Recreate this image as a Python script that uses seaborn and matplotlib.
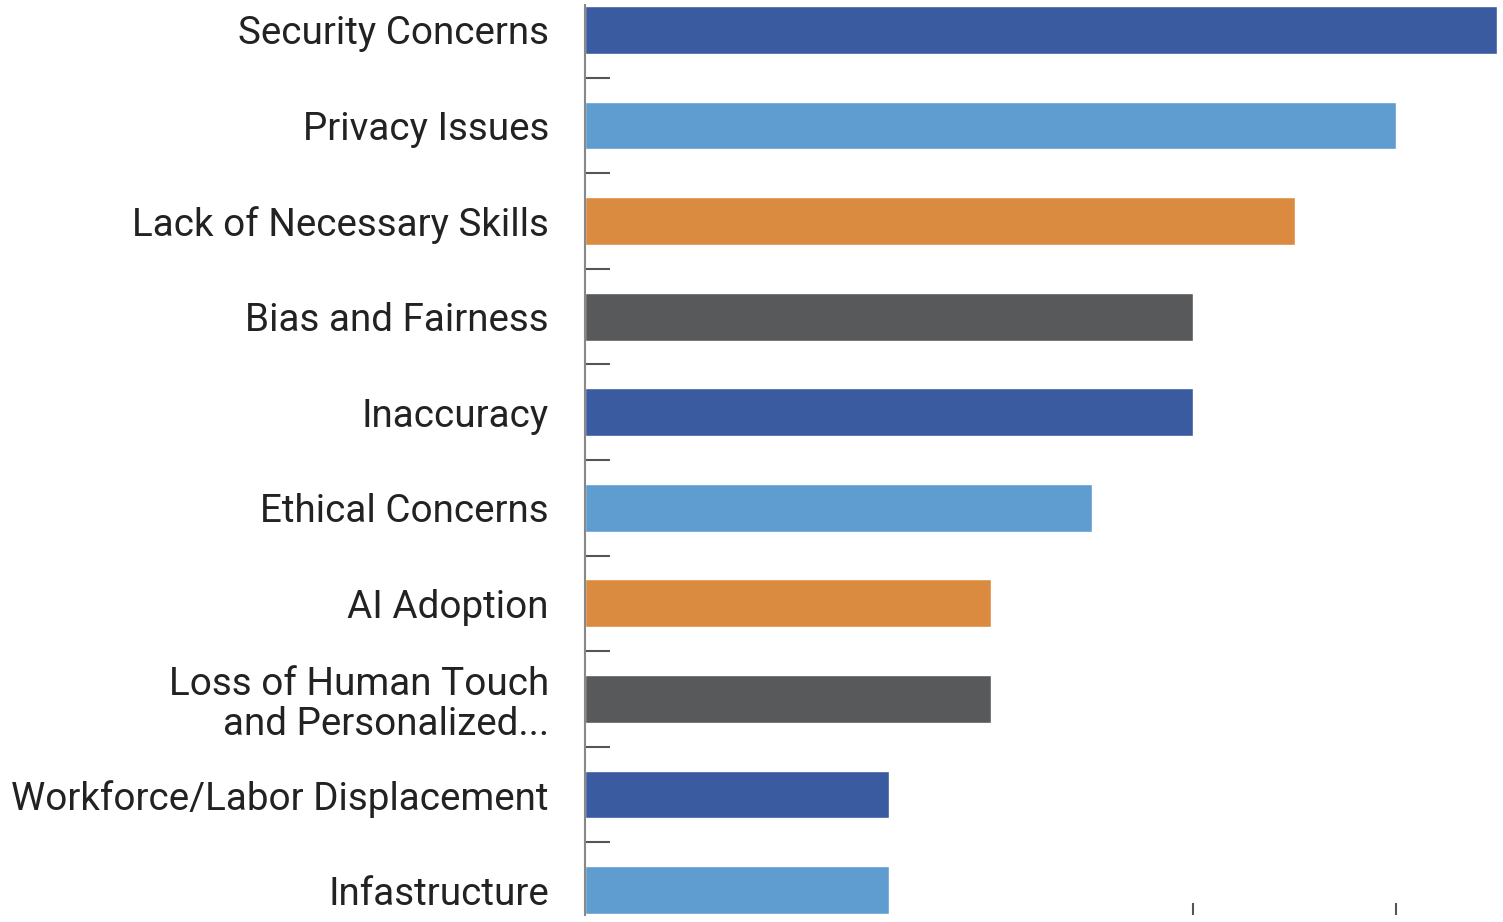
import matplotlib
matplotlib.use("Agg")
import matplotlib.pyplot as plt
import seaborn as sns
import pandas as pd
from matplotlib.ticker import FixedLocator

categories = [
    "Security Concerns",
    "Privacy Issues",
    "Lack of Necessary Skills",
    "Bias and Fairness",
    "Inaccuracy",
    "Ethical Concerns",
    "AI Adoption",
    "Loss of Human Touch\nand Personalized...",
    "Workforce/Labor Displacement",
    "Infastructure",
]
values = [18, 16, 14, 12, 12, 10, 8, 8, 6, 6]
colors = ["#3A5BA0", "#5F9DD1", "#DB8B3F", "#58595B",
          "#3A5BA0", "#5F9DD1", "#DB8B3F", "#58595B",
          "#3A5BA0", "#5F9DD1"]

sns.set_theme(style="white")
plt.rcParams["font.family"] = ["Roboto", "DejaVu Sans"]

df = pd.DataFrame({"category": categories, "value": values})

fig = plt.figure(figsize=(15.03, 9.22), dpi=100)
ax = fig.add_axes([585 / 1503, 1 - 915 / 922, (1500 - 585) / 1503, (915 - 5) / 922])

sns.barplot(data=df, y="category", x="value", hue="category", palette=colors,
            legend=False, orient="h", width=0.5, ax=ax, saturation=1)

ax.set_xlim(0, 18.05)
ax.set_ylim(9.26, -0.26)
ax.set_xlabel("")
ax.set_ylabel("")

for s in ["top", "right", "bottom"]:
    ax.spines[s].set_visible(False)
ax.spines["left"].set_color("#888888")
ax.spines["left"].set_linewidth(1.5)

ax.set_xticks([12, 16])
ax.set_xticklabels([])
ax.tick_params(axis="x", which="major", direction="in", length=9, width=1.5,
               color="#555555", bottom=True)

ax.set_yticks(range(len(categories)))
ax.set_yticklabels(categories, fontsize=27.8, color="#222222", linespacing=1.12)
ax.tick_params(axis="y", which="major", length=0, pad=26)
ax.yaxis.set_minor_locator(FixedLocator([i + 0.5 for i in range(len(categories) - 1)]))
ax.tick_params(axis="y", which="minor", direction="in", length=18, width=1.5,
               color="#555555", left=True)

fig.savefig("out.png", dpi=100)
